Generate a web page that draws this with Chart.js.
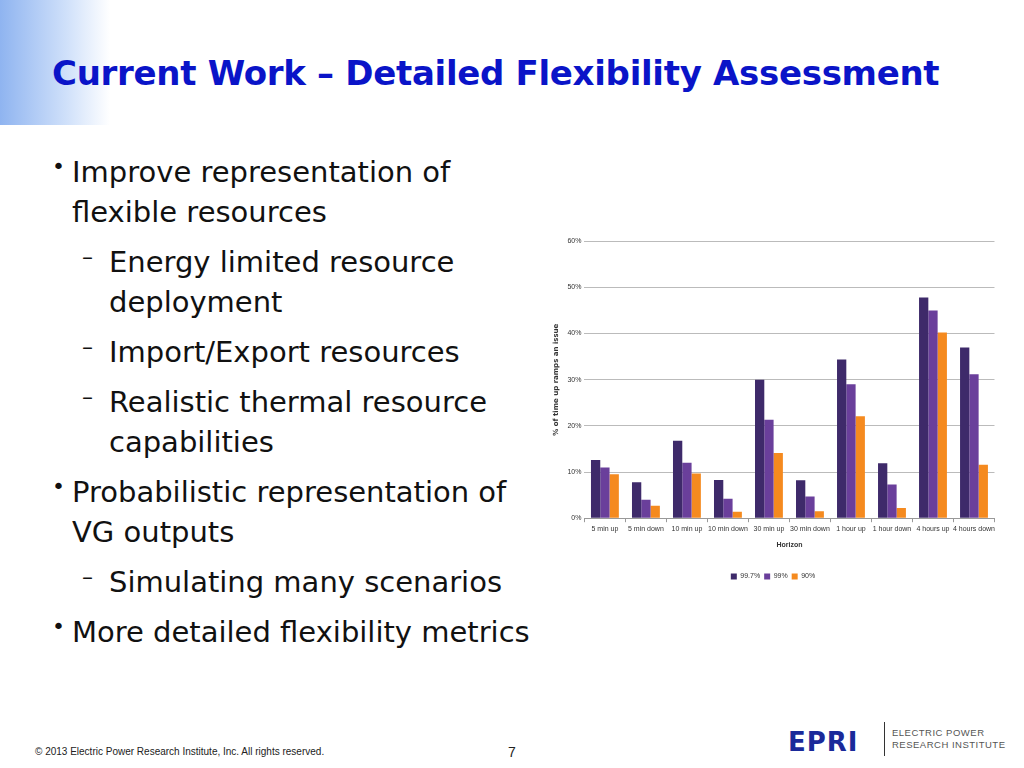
<!DOCTYPE html>
<html><head><meta charset="utf-8">
<script src="https://cdn.jsdelivr.net/npm/chart.js@4"></script>
<style>
body{margin:0;width:1024px;height:768px;position:relative;background:#fff;font-family:"DejaVu Sans",sans-serif;overflow:hidden}
#grad{position:absolute;left:0;top:0;width:110px;height:125px;background:linear-gradient(90deg,#8fb4f0 0%,#cfe0fa 60%,#fff 100%)}
h1{position:absolute;left:52px;top:53px;margin:0;font-size:34px;color:#0a14c8;font-weight:bold;letter-spacing:-0.3px}
.b{position:absolute;font-size:29px;color:#111;line-height:40px}
.d{position:absolute;font-size:22px;color:#111;line-height:30px}
.foot{position:absolute;font-size:10px;color:#222;font-family:"Liberation Sans",Arial,sans-serif}
#cw{position:absolute;left:548px;top:234px;width:450px;height:356px}
</style></head><body>
<div id="grad"></div>
<h1>Current Work – Detailed Flexibility Assessment</h1>
<div class="d" style="left:52px;top:152px">•</div>
<div class="b" style="left:72px;top:152px">Improve representation of<br>flexible resources</div>
<div class="d" style="left:82px;top:242px">–</div>
<div class="b" style="left:109px;top:242px">Energy limited resource<br>deployment</div>
<div class="d" style="left:82px;top:332px">–</div>
<div class="b" style="left:109px;top:332px">Import/Export resources</div>
<div class="d" style="left:82px;top:382px">–</div>
<div class="b" style="left:109px;top:382px">Realistic thermal resource<br>capabilities</div>
<div class="d" style="left:52px;top:472px">•</div>
<div class="b" style="left:72px;top:472px">Probabilistic representation of<br>VG outputs</div>
<div class="d" style="left:82px;top:562px">–</div>
<div class="b" style="left:109px;top:562px">Simulating many scenarios</div>
<div class="d" style="left:52px;top:612px">•</div>
<div class="b" style="left:72px;top:612px">More detailed flexibility metrics</div>
<div class="foot" style="left:35px;top:746px">© 2013 Electric Power Research Institute, Inc. All rights reserved.</div>
<div class="foot" style="left:508px;top:744px;font-size:14px">7</div>
<div style="position:absolute;left:788px;top:727px;font-size:26px;font-weight:bold;color:#1a2a9a;letter-spacing:1px">EPRI</div>
<div style="position:absolute;left:884px;top:722px;width:1px;height:34px;background:#333"></div>
<div style="position:absolute;left:892px;top:727px;font-size:9.5px;color:#555;line-height:12px;letter-spacing:0.5px;font-family:'Liberation Sans',sans-serif">ELECTRIC POWER<br>RESEARCH INSTITUTE</div>
<div id="cw"><canvas id="c"></canvas></div>
<script>
const categories=["5 min up","5 min down","10 min up","10 min down","30 min up","30 min down","1 hour up","1 hour down","4 hours up","4 hours down"];
const s997=[12.6,7.8,16.8,8.3,30,8.2,34.4,11.9,47.8,37];
const s99=[11,4,12,4.2,21.3,4.7,29,7.3,45,31.2];
const s90=[9.5,2.7,9.7,1.4,14.1,1.5,22.1,2.2,40.2,11.6];
const seriesNames=["99.7%","99%","90%"];
const f={family:"'Liberation Sans',sans-serif",size:7};
new Chart(document.getElementById('c'),{type:'bar',
data:{labels:categories,datasets:[
{label:seriesNames[0],data:s997,backgroundColor:'#3e2a6a'},
{label:seriesNames[1],data:s99,backgroundColor:'#6a3f9b'},
{label:seriesNames[2],data:s90,backgroundColor:'#f58a1f'}]},
options:{responsive:true,maintainAspectRatio:false,animation:false,
datasets:{bar:{categoryPercentage:0.68,barPercentage:1}},
plugins:{legend:{position:'bottom',labels:{boxWidth:6,boxHeight:6,font:f,color:'#333',padding:4}},tooltip:{enabled:false}},
scales:{x:{grid:{display:true,drawOnChartArea:false,tickLength:4,offset:true,color:'#999'},border:{color:'#999'},ticks:{font:f,color:'#333',maxRotation:0,autoSkip:false},title:{display:true,text:'Horizon',font:{...f,weight:'bold'},color:'#333',padding:{top:4,bottom:20}}},
y:{min:0,max:60,ticks:{stepSize:10,font:f,color:'#333',callback:v=>v+'%'},grid:{color:'#bbb',drawTicks:false},border:{display:false},title:{display:true,text:'% of time up ramps an issue',font:{family:"'DejaVu Sans'",size:7,weight:'bold'},color:'#333'}}}}});
</script>
</body></html>
